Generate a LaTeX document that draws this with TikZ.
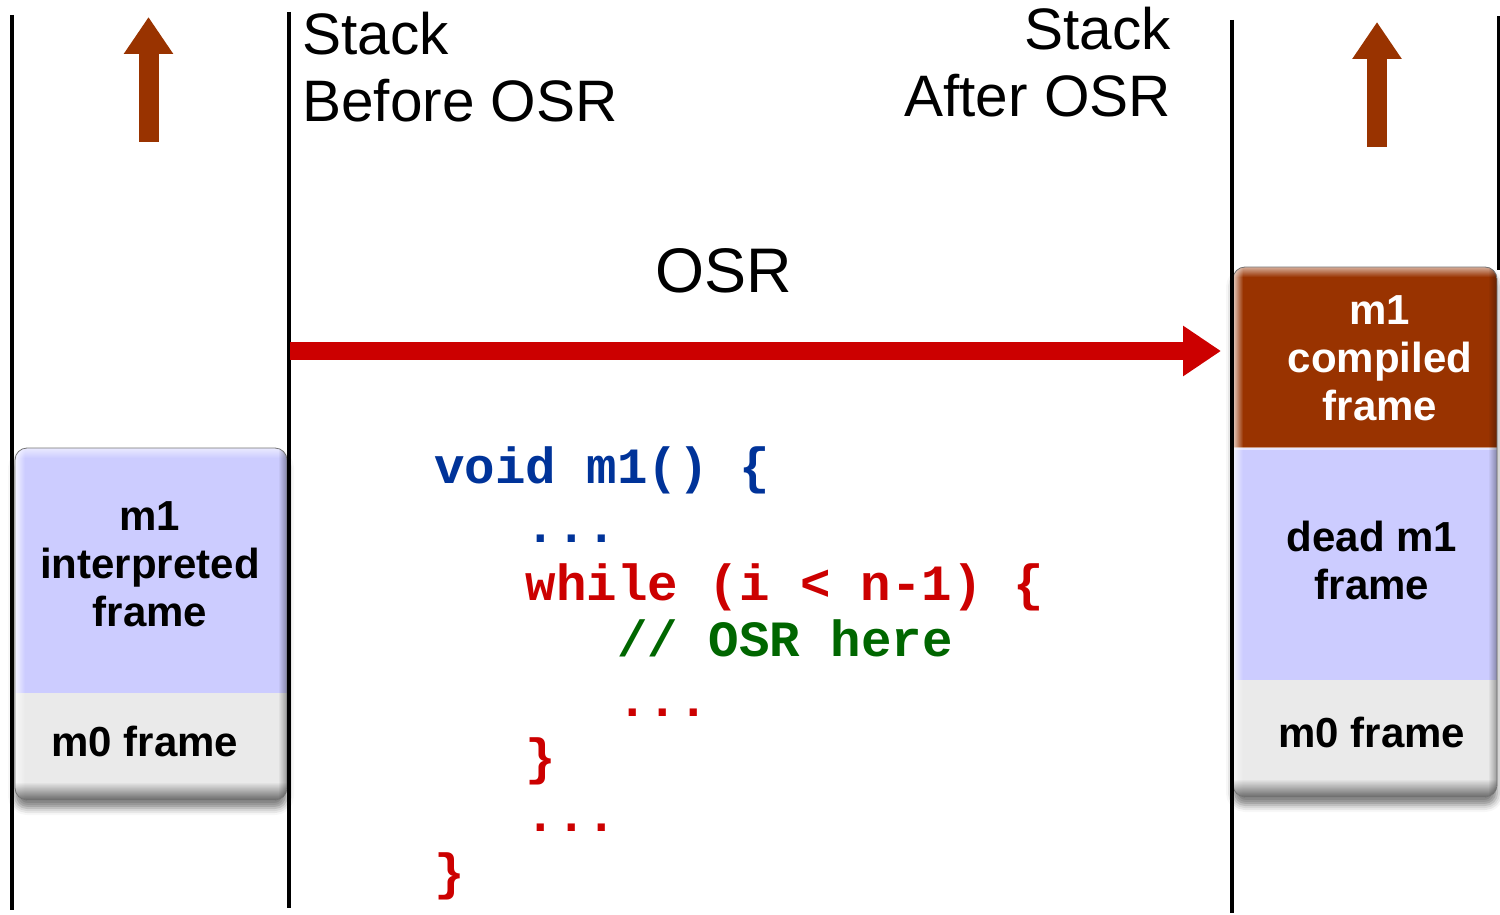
\documentclass[tikz,border=0pt]{standalone}
\usepackage{fontspec}
\setmainfont{Liberation Sans}
\newfontfamily\codefont{Liberation Mono}
\usetikzlibrary{arrows.meta,fadings,shadows.blur}

\definecolor{rustbrown}{HTML}{993300}
\definecolor{osrred}{HTML}{CC0000}
\definecolor{lavender}{HTML}{CCCCFF}
\definecolor{palegray}{HTML}{EAEAEA}
\definecolor{codeblue}{HTML}{003399}
\definecolor{codered}{HTML}{CC0000}
\definecolor{codegreen}{HTML}{006600}

% bevel highlights and shading inside a rounded stack box (x1,y1,x2,y2)
\newcommand{\bevelbox}[4]{%
  \begin{scope}
    \clip[rounded corners=12pt] (#1,#2) rectangle (#3,#4);
    \fill[white, opacity=0.75, path fading=east] (#1,#2) rectangle (#1+10,#4);
    \fill[white, opacity=0.6, path fading=south] (#1,#2) rectangle (#3,#2+10);
    \fill[black, opacity=0.35, path fading=west] (#3-9,#2) rectangle (#3,#4);
    \fill[black, opacity=0.55, path fading=north] (#1,#4-18) rectangle (#3,#4);
  \end{scope}
  \draw[black!55, line width=0.8pt, rounded corners=12pt] (#1,#2) rectangle (#3,#4);
}

\begin{document}
\begin{tikzpicture}[x=1pt, y=-1pt,
  rail/.style={line width=3.4pt, black},
  uparrow/.style={rustbrown, line width=20pt, -{Triangle[length=37pt,width=47pt]}},
  osrarrow/.style={osrred, line width=18pt, -{Triangle[length=38pt,width=48pt]}},
  boxlabel/.style={font=\fontsize{42}{48}\selectfont\bfseries, align=center, inner sep=0pt},
  titletext/.style={font=\fontsize{58.5}{67}\selectfont, inner sep=0pt},
  codeline/.style={font=\codefont\bfseries\fontsize{50.8}{58}\selectfont, anchor=base west, inner sep=0pt},
  boxshadow/.style={blur shadow={shadow xshift=0pt, shadow yshift=-8pt, shadow blur radius=7pt, shadow opacity=50}}
]
\useasboundingbox (0,0) rectangle (1500,915);

% ---------- stack before OSR ----------
\fill[boxshadow, palegray, rounded corners=12pt] (15,448) rectangle (287,800);
\begin{scope}
  \clip[rounded corners=12pt] (15,448) rectangle (287,800);
  \fill[lavender] (15,448) rectangle (287,693);
  \fill[palegray] (15,693) rectangle (287,800);
\end{scope}
\bevelbox{15}{448}{287}{800}
\node[boxlabel] (interp) at (150,564) {m1\\interpreted\\frame};
\node[boxlabel] (m0left) at (145,741) {m0 frame};

% ---------- stack after OSR ----------
\fill[boxshadow, palegray, rounded corners=12pt] (1233,267) rectangle (1497,797);
\begin{scope}
  \clip[rounded corners=12pt] (1233,267) rectangle (1497,797);
  \fill[rustbrown] (1233,267) rectangle (1497,448);
  \fill[lavender] (1233,448) rectangle (1497,680);
  \fill[palegray] (1233,680) rectangle (1497,797);
  \fill[white, opacity=0.5] (1233,447) rectangle (1497,449.5);
\end{scope}
\bevelbox{1233}{267}{1497}{797}
\node[boxlabel, text=white] (compiled) at (1380,358) {m1\\compiled\\frame};
\node[boxlabel] (dead) at (1372,560) {dead m1\\frame};
\node[boxlabel] (m0right) at (1372,732) {m0 frame};

% ---------- vertical rails ----------
\draw[rail] (12,15) -- (12,910);
\draw[rail] (289,12) -- (289,908);
\draw[rail] (1232,20) -- (1232,913);
\draw[rail] (1499,16) -- (1499,270);

% ---------- growth arrows ----------
\coordinate (growLfrom) at (148.5,142);
\coordinate (growLto) at (148.5,17);
\coordinate (growRfrom) at (1377,147);
\coordinate (growRto) at (1377,22);
\draw[uparrow] (growLfrom) -- (growLto);
\draw[uparrow] (growRfrom) -- (growRto);

% ---------- titles ----------
\node[titletext, align=left, anchor=north west] (before) at (302,12) {Stack\\Before OSR};
\node[titletext, align=right, anchor=north east] (after) at (1171,7) {Stack\\After OSR};
\node[font=\fontsize{63}{70}\selectfont, inner sep=0pt, anchor=base] (osrlabel) at (724,292) {OSR};

% ---------- OSR transition ----------
\coordinate (osrfrom) at (290,351);
\coordinate (osrto) at (1221,351);
\draw[osrarrow] (osrfrom) -- (osrto);

% ---------- method source ----------
\node[codeline, text=codeblue]  (c1) at (434,483)   {void m1() \{};
\node[codeline, text=codeblue]  (c2) at (525.5,542) {...};
\node[codeline, text=codered]   (c3) at (525.5,600) {while (i < n-1) \{};
\node[codeline, text=codegreen] (c4) at (617,656)   {// OSR here};
\node[codeline, text=codered]   (c5) at (617,716)   {...};
\node[codeline, text=codered]   (c6) at (525.5,774) {\}};
\node[codeline, text=codered]   (c7) at (525.5,831) {...};
\node[codeline, text=codered]   (c8) at (434,889)   {\}};
\end{tikzpicture}
\end{document}
